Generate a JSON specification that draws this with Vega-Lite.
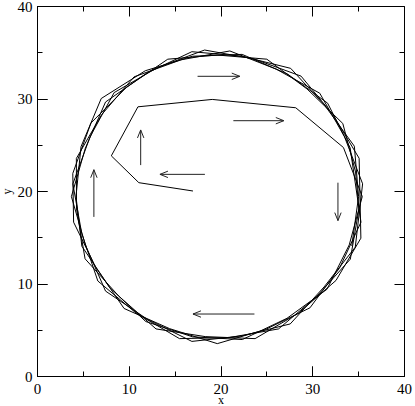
{
  "$schema": "https://vega.github.io/schema/vega-lite/v6.json",
  "width": 367,
  "height": 370,
  "autosize": {"type": "none"},
  "padding": {"left": 37, "top": 6, "right": 11, "bottom": 30},
  "background": "white",
  "config": {
    "view": {"stroke": "black", "strokeWidth": 1},
    "axis": {"grid": false, "zindex": 1, "labelFont": "Liberation Serif", "titleFont": "Liberation Serif", "labelFontSize": 15, "titleFontSize": 12, "titleFontWeight": "normal", "labelColor": "black", "titleColor": "black", "domainColor": "black", "labelFlush": false}
  },
  "datasets": {
    "traj": [
      {"i":0,"x":17.0,"y":20.0},{"i":1,"x":11.1,"y":20.9},{"i":2,"x":8.1,"y":23.8},{"i":3,"x":11.0,"y":29.1},{"i":4,"x":19.1,"y":29.9},{"i":5,"x":28.2,"y":29.0},{"i":6,"x":33.4,"y":24.7},
      {"i":7,"x":35.45,"y":19.4},{"i":8,"x":34.03,"y":14.17},{"i":9,"x":31.6,"y":9.37},{"i":10,"x":27.25,"y":6.24},{"i":11,"x":22.38,"y":3.94},{"i":12,"x":16.97,"y":4.23},{"i":13,"x":11.85,"y":5.89},{"i":14,"x":7.93,"y":9.56},{"i":15,"x":4.89,"y":14.03},{"i":16,"x":4.25,"y":19.4},{"i":17,"x":4.8,"y":24.8},{"i":18,"x":7.0,"y":30.0},{"i":19,"x":11.8,"y":33.0},{"i":20,"x":16.97,"y":34.57},{"i":21,"x":22.36,"y":34.77},{"i":22,"x":27.3,"y":32.65},{"i":23,"x":31.68,"y":29.49},{"i":24,"x":34.13,"y":24.67},
      {"i":25,"x":35.31,"y":16.63},{"i":26,"x":32.99,"y":11.7},{"i":27,"x":29.75,"y":7.37},{"i":28,"x":24.88,"y":5.02},{"i":29,"x":19.65,"y":3.5},{"i":30,"x":14.45,"y":5.12},{"i":31,"x":9.49,"y":7.3},{"i":32,"x":6.4,"y":11.75},{"i":33,"x":3.99,"y":16.63},{"i":34,"x":3.9,"y":21.9},{"i":35,"x":5.88,"y":27.35},{"i":36,"x":9.75,"y":31.2},{"i":37,"x":14.25,"y":34.25},{"i":38,"x":19.65,"y":34.7},{"i":39,"x":25.05,"y":34.25},{"i":40,"x":29.42,"y":31.04},{"i":41,"x":33.33,"y":27.3},{"i":42,"x":34.72,"y":22.06},
      {"i":43,"x":35.09,"y":18.05},{"i":44,"x":34.15,"y":12.63},{"i":45,"x":30.47,"y":8.58},{"i":46,"x":26.33,"y":5.09},{"i":47,"x":20.98,"y":4.16},{"i":48,"x":15.53,"y":4.04},{"i":49,"x":10.81,"y":6.79},{"i":50,"x":6.63,"y":10.27},{"i":51,"x":4.87,"y":15.44},{"i":52,"x":3.91,"y":20.77},{"i":53,"x":5.79,"y":25.87},{"i":54,"x":8.41,"y":30.64},{"i":55,"x":13.14,"y":33.35},{"i":56,"x":18.27,"y":35.24},{"i":57,"x":23.64,"y":34.28},{"i":58,"x":28.78,"y":32.42},{"i":59,"x":32.26,"y":28.24},{"i":60,"x":35.11,"y":23.54},
      {"i":61,"x":35.3,"y":14.9},{"i":62,"x":32.59,"y":10.33},{"i":63,"x":28.49,"y":6.79},{"i":64,"x":23.77,"y":4.04},{"i":65,"x":18.33,"y":4.26},{"i":66,"x":12.97,"y":5.09},{"i":67,"x":8.9,"y":8.65},{"i":68,"x":5.24,"y":12.67},{"i":69,"x":4.31,"y":18.06},{"i":70,"x":4.29,"y":23.52},{"i":71,"x":7.04,"y":28.24},{"i":72,"x":10.58,"y":32.34},{"i":73,"x":15.69,"y":34.18},{"i":74,"x":21.02,"y":35.14},{"i":75,"x":26.08,"y":33.17},{"i":76,"x":30.82,"y":30.57},{"i":77,"x":33.51,"y":25.87},{"i":78,"x":35.49,"y":20.78},
      {"i":79,"x":34.69,"y":13.93},{"i":80,"x":31.29,"y":9.63},{"i":81,"x":27.6,"y":5.63},{"i":82,"x":22.31,"y":4.33},{"i":83,"x":16.88,"y":3.74},{"i":84,"x":12.0,"y":6.15},{"i":85,"x":7.47,"y":9.18},{"i":86,"x":5.27,"y":14.17},{"i":87,"x":3.75,"y":19.4},{"i":88,"x":5.27,"y":24.63},{"i":89,"x":7.47,"y":29.62},{"i":90,"x":11.95,"y":32.74},{"i":91,"x":16.88,"y":35.06},{"i":92,"x":22.32,"y":34.57},{"i":93,"x":27.65,"y":33.26},{"i":94,"x":31.37,"y":29.24},{"i":95,"x":34.59,"y":24.84},{"i":96,"x":35.05,"y":19.4},{"i":97,"x":34.31,"y":14.06}
    ],
    "arrows": [
      {"x":17.5,"y":32.4,"x2":22.1,"y2":32.4,"dir":"right"},
      {"x":21.4,"y":27.6,"x2":26.9,"y2":27.6,"dir":"right"},
      {"x":32.8,"y":20.9,"x2":32.8,"y2":16.8,"dir":"down"},
      {"x":23.7,"y":6.7,"x2":17.0,"y2":6.7,"dir":"left"},
      {"x":18.3,"y":21.8,"x2":13.4,"y2":21.8,"dir":"left"},
      {"x":6.2,"y":17.2,"x2":6.2,"y2":22.3,"dir":"up"},
      {"x":11.3,"y":22.8,"x2":11.3,"y2":26.6,"dir":"up"}
    ]
  },
  "layer": [
    {
      "data": {"name": "traj"},
      "mark": {"type": "line", "color": "black", "strokeWidth": 1},
      "encoding": {
        "x": {"field": "x", "type": "quantitative", "scale": {"domain": [0, 40], "nice": false, "zero": false},
          "axis": {"orient": "bottom", "values": [0,10,20,30,40], "tickSize": -10, "tickWidth": 1, "tickColor": "black",
            "labelPadding": 15, "title": "x", "titlePadding": -2}},
        "y": {"field": "y", "type": "quantitative", "scale": {"domain": [0, 40], "nice": false, "zero": false},
          "axis": {"orient": "left", "values": [0,10,20,30,40], "tickSize": -10, "tickWidth": 1, "tickColor": "black",
            "labelPadding": 15, "title": "y", "titlePadding": 4}},
        "order": {"field": "i", "type": "quantitative"}
      }
    },
    {
      "data": {"name": "arrows"},
      "mark": {"type": "rule", "color": "#222", "strokeWidth": 1},
      "encoding": {
        "x": {"field": "x", "type": "quantitative",
          "axis": {"orient": "bottom", "offset": -370, "values": [0,10,20,30,40], "labels": false, "title": null, "tickSize": 10, "tickWidth": 1, "tickColor": "black", "domain": false}},
        "y": {"field": "y", "type": "quantitative",
          "axis": {"orient": "left", "offset": -367, "values": [0,10,20,30,40], "labels": false, "title": null, "tickSize": 10, "tickWidth": 1, "tickColor": "black", "domain": false}},
        "x2": {"field": "x2"},
        "y2": {"field": "y2"}
      }
    },
    {
      "data": {"name": "arrows"},
      "transform": [{"filter": "datum.dir === 'right'"}],
      "mark": {"type": "point", "shape": "M-1,-0.4L0,0L-1,0.4", "size": 256, "filled": false, "stroke": "#222", "strokeWidth": 1, "opacity": 1, "angle": 0},
      "encoding": {
        "x": {"field": "x2", "type": "quantitative",
          "axis": {"orient": "top", "offset": -370, "values": [5,15,25,35], "labels": false, "title": null, "tickSize": 5, "tickWidth": 1, "tickColor": "black", "domain": false}},
        "y": {"field": "y2", "type": "quantitative",
          "axis": {"orient": "right", "offset": -367, "values": [5,15,25,35], "labels": false, "title": null, "tickSize": 5, "tickWidth": 1, "tickColor": "black", "domain": false}}
      }
    },
    {
      "data": {"name": "arrows"},
      "transform": [{"filter": "datum.dir === 'down'"}],
      "mark": {"type": "point", "shape": "M-1,-0.4L0,0L-1,0.4", "size": 256, "filled": false, "stroke": "#222", "strokeWidth": 1, "opacity": 1, "angle": 90},
      "encoding": {
        "x": {"field": "x2", "type": "quantitative",
          "axis": {"orient": "bottom", "offset": -370, "values": [5,15,25,35], "labels": false, "title": null, "tickSize": 5, "tickWidth": 1, "tickColor": "black", "domain": false}},
        "y": {"field": "y2", "type": "quantitative",
          "axis": {"orient": "left", "offset": -367, "values": [5,15,25,35], "labels": false, "title": null, "tickSize": 5, "tickWidth": 1, "tickColor": "black", "domain": false}}
      }
    },
    {
      "data": {"name": "arrows"},
      "transform": [{"filter": "datum.dir === 'left'"}],
      "mark": {"type": "point", "shape": "M-1,-0.4L0,0L-1,0.4", "size": 256, "filled": false, "stroke": "#222", "strokeWidth": 1, "opacity": 1, "angle": 180},
      "encoding": {
        "x": {"field": "x2", "type": "quantitative",
          "axis": {"orient": "top", "offset": -370, "values": [0,10,20,30,40], "labels": false, "title": null, "tickSize": 10, "tickWidth": 1, "tickColor": "black", "domain": false}},
        "y": {"field": "y2", "type": "quantitative",
          "axis": {"orient": "right", "offset": -367, "values": [0,10,20,30,40], "labels": false, "title": null, "tickSize": 10, "tickWidth": 1, "tickColor": "black", "domain": false}}
      }
    },
    {
      "data": {"name": "arrows"},
      "transform": [{"filter": "datum.dir === 'up'"}],
      "mark": {"type": "point", "shape": "M-1,-0.4L0,0L-1,0.4", "size": 256, "filled": false, "stroke": "#222", "strokeWidth": 1, "opacity": 1, "angle": 270},
      "encoding": {
        "x": {"field": "x2", "type": "quantitative", "axis": null},
        "y": {"field": "y2", "type": "quantitative", "axis": null}
      }
    }
  ],
  "resolve": {"axis": {"x": "independent", "y": "independent"}}
}
